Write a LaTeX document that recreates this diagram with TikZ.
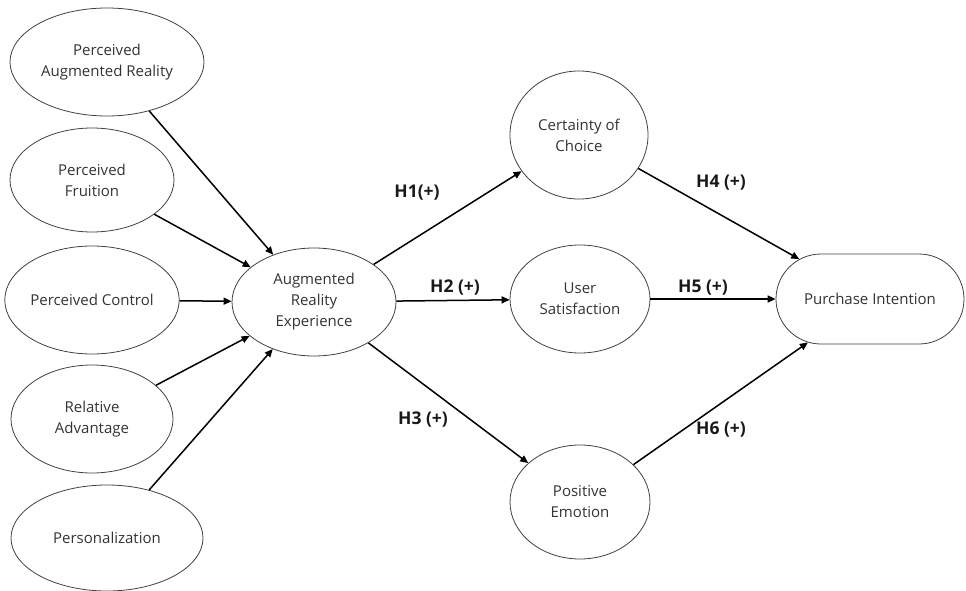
\documentclass[tikz,border=0pt]{standalone}
\usepackage{fontspec}
\setmainfont{Open Sans}
\usetikzlibrary{shapes.geometric,shapes.misc,arrows.meta}
\tikzset{
  var/.style={ellipse,draw=black!75,line width=0.8pt,inner sep=0pt,align=center,
    text=black!80,font=\fontsize{15}{21}\selectfont},
  link/.style={line width=1.5pt,-{Triangle[length=8pt,width=7pt]}},
  hyp/.style={font=\bfseries\fontsize{17.5}{20}\selectfont,text=black!90}
}
\begin{document}
\begin{tikzpicture}[x=1pt,y=-1pt]
\useasboundingbox (0,0) rectangle (966,591);
\node[var,minimum width=194pt,minimum height=108pt] (par) at (107,62) {Perceived\\Augmented Reality};
\node[var,minimum width=164pt,minimum height=104pt] (pf) at (92,180) {Perceived\\Fruition};
\node[var,minimum width=164pt,minimum height=108pt] (pc) at (92,300) {Perceived Control};
\node[var,minimum width=162pt,minimum height=108pt] (ra) at (92,419) {Relative\\Advantage};
\node[var,minimum width=192pt,minimum height=106pt] (pe2) at (107,538) {Personalization};
\node[var,minimum width=164pt,minimum height=108pt] (are) at (314,302) {Augmented\\Reality\\Experience};
\node[var,minimum width=138pt,minimum height=128pt] (coc) at (579,135) {Certainty of\\Choice};
\node[var,minimum width=140pt,minimum height=108pt] (us) at (580,299) {User\\Satisfaction};
\node[var,minimum width=140pt,minimum height=114pt] (pem) at (580,502) {Positive\\Emotion};
\node[rounded rectangle,draw=black!75,line width=0.8pt,minimum width=188pt,minimum height=90pt,
  inner sep=0pt,text=black!80,font=\fontsize{15}{21}\selectfont] (pi) at (870,299) {Purchase Intention};
\draw[link] (par) -- (are);
\draw[link] (pf) -- (are);
\draw[link] (pc) -- (are);
\draw[link] (ra) -- (are);
\draw[link] (pe2) -- (are);
\draw[link] (are) -- (coc);
\draw[link] (are) -- (us);
\draw[link] (are) -- (pem);
\draw[link] (coc) -- (pi);
\draw[link] (us) -- (pi);
\draw[link] (pem) -- (pi);
\node[hyp] (h1) at (417,193) {H1(+)};
\node[hyp] (h2) at (455,288) {H2 (+)};
\node[hyp] (h3) at (423,420) {H3 (+)};
\node[hyp] (h4) at (721,183) {H4 (+)};
\node[hyp] (h5) at (703,288) {H5 (+)};
\node[hyp] (h6) at (721,430) {H6 (+)};
\end{tikzpicture}
\end{document}
